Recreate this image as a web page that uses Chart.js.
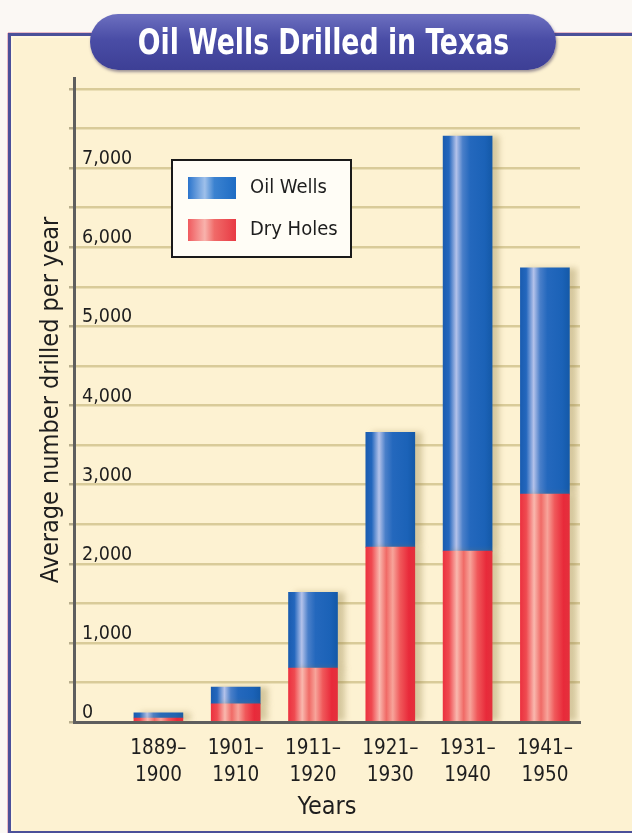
<!DOCTYPE html>
<html>
<head>
<meta charset="utf-8">
<script src="https://cdn.jsdelivr.net/npm/chart.js@4"></script>
<style>
  html, body { margin: 0; padding: 0; background: #fbf8f4; }
  #wrap { position: relative; width: 632px; height: 833px; overflow: hidden; }
  #panel {
    position: absolute; left: 8px; top: 33px; width: 640px; height: 795px;
    background: #fdf2d2;
    border: 3px solid #4b5099;
    box-shadow: 0 -1px 0 #e9b9c8, -1px 0 0 #e9b9c8, inset 2px 2px 0 #fff6e0;
  }
  #title {
    position: absolute; left: 90px; top: 14px; width: 466px; height: 56px;
    border-radius: 28px;
    background: linear-gradient(#6d70c0, #4a4da6 45%, #3d3f95);
    box-shadow: 1px 2px 3px rgba(60, 50, 90, 0.5);
    color: #fff; text-align: center; line-height: 56px;
    font-family: "Liberation Sans Narrow", "DejaVu Sans Condensed", sans-serif;
    font-weight: bold; font-size: 35px;
  }
  #title span { display: inline-block; transform: scaleX(0.85); white-space: nowrap; }
  #chartBox { position: absolute; left: 0; top: 0; width: 632px; height: 833px; }
</style>
</head>
<body>
<div id="wrap">
  <div id="panel"></div>
  <div id="chartBox"><canvas id="chart"></canvas></div>
  <div id="title"><span>Oil Wells Drilled in Texas</span></div>
</div>
<script>
// data
const periods = [["1889–", "1900"], ["1901–", "1910"], ["1911–", "1920"], ["1921–", "1930"], ["1931–", "1940"], ["1941–", "1950"]];
const dryHoles = [50, 230, 680, 2210, 2160, 2880];
const oilWells = [65, 210, 960, 1450, 5245, 2860];
const yTickLabels = [0, 1000, 2000, 3000, 4000, 5000, 6000, 7000];

const FONT = '"Liberation Sans Narrow", "DejaVu Sans Condensed", sans-serif';
const BAR_W = 49;

function barGradient(ctx, kind) {
    const chart = ctx.chart;
    if (!chart.chartArea || !chart.scales.x) return kind === 'oil' ? '#1f63b8' : '#ee3844';
    const xc = chart.scales.x.getPixelForValue(ctx.dataIndex);
    const g = chart.ctx.createLinearGradient(xc - BAR_W / 2, 0, xc + BAR_W / 2, 0);
    if (kind === 'oil') {
        g.addColorStop(0, '#1a5cb0');
        g.addColorStop(0.12, '#2467bd');
        g.addColorStop(0.27, '#b4c2ea');
        g.addColorStop(0.4, '#4a7fc9');
        g.addColorStop(0.55, '#2468bd');
        g.addColorStop(0.85, '#1b62b7');
        g.addColorStop(1, '#1459a8');
    } else {
        g.addColorStop(0, '#ec3240');
        g.addColorStop(0.12, '#ef4a50');
        g.addColorStop(0.28, '#f9b8ae');
        g.addColorStop(0.42, '#f06a66');
        g.addColorStop(0.55, '#f7a49a');
        g.addColorStop(0.7, '#f0585a');
        g.addColorStop(0.88, '#e82a3a');
        g.addColorStop(1, '#e4303c');
    }
    return g;
}

// soft shadow to the right of the bars
const barShadow = {
    id: 'barShadow',
    beforeDatasetsDraw(chart) {
        const c = chart.ctx;
        c.save();
        c.shadowColor = 'rgba(140, 120, 60, 0.35)';
        c.shadowBlur = 6;
        c.shadowOffsetX = 7;
        c.shadowOffsetY = 0;
    },
    afterDatasetsDraw(chart) {
        chart.ctx.restore();
    }
};

// legend box drawn inside the plot
const boxLegend = {
    id: 'boxLegend',
    afterDraw(chart) {
        const c = chart.ctx;
        const items = chart.data.datasets.slice().reverse();
        c.save();
        c.fillStyle = '#fffdf6';
        c.fillRect(172, 160, 179, 97);
        c.strokeStyle = '#1a1a1a';
        c.lineWidth = 2;
        c.strokeRect(172, 160, 179, 97);
        items.forEach((ds, i) => {
            const y = 177 + i * 42;
            const g = c.createLinearGradient(188, 0, 236, 0);
            if (ds.label === 'Oil Wells') {
                g.addColorStop(0, '#2a74cc'); g.addColorStop(0.35, '#9fc0ea');
                g.addColorStop(0.55, '#3b82d0'); g.addColorStop(1, '#1e6cc4');
            } else {
                g.addColorStop(0, '#f05a5e'); g.addColorStop(0.35, '#f8b2ac');
                g.addColorStop(0.55, '#f06a68'); g.addColorStop(1, '#e83a44');
            }
            c.fillStyle = g;
            c.fillRect(188, y, 48, 22);
            c.fillStyle = '#1e1e1e';
            c.font = '20px ' + FONT;
            c.textBaseline = 'middle';
            c.textAlign = 'left';
            c.fillText(ds.label, 250, y + 11);
        });
        c.restore();
    }
};

new Chart(document.getElementById('chart'), {
    type: 'bar',
    data: {
        datasets: [{
            label: 'Dry Holes',
            data: dryHoles.map((v, i) => ({ x: i, y: v })),
            backgroundColor: (ctx) => barGradient(ctx, 'dry'),
            borderWidth: 0,
            barThickness: BAR_W
        }, {
            label: 'Oil Wells',
            data: oilWells.map((v, i) => ({ x: i, y: v })),
            backgroundColor: (ctx) => barGradient(ctx, 'oil'),
            borderWidth: 0,
            barThickness: BAR_W
        }]
    },
    options: {
        responsive: true,
        maintainAspectRatio: false,
        animation: false,
        layout: { padding: { top: 78, right: 52, left: 0, bottom: 0 } },
        plugins: {
            legend: { display: false },
            tooltip: { enabled: false }
        },
        scales: {
            x: {
                type: 'linear',
                stacked: true,
                offset: false,
                min: -1.092,
                max: 5.454,
                afterBuildTicks: (scale) => {
                    scale.ticks = periods.map((p, i) => ({ value: i }));
                },
                afterFit: (scale) => { scale.height = 111; },
                ticks: {
                    autoSkip: false,
                    maxRotation: 0,
                    padding: 13,
                    color: '#1e1e1e',
                    font: { family: FONT, size: 20.5, lineHeight: 1.32 },
                    callback: (v) => periods[v]
                },
                grid: { color: 'transparent', drawTicks: false, offset: false },
                border: { color: '#5e5e5e', width: 3 },
                title: {
                    display: true,
                    text: 'Years',
                    color: '#1e1e1e',
                    font: { family: FONT, size: 25 },
                    padding: { top: 0, bottom: 11 }
                }
            },
            y: {
                stacked: true,
                min: 0,
                max: 8140,
                afterBuildTicks: (scale) => {
                    const t = [];
                    for (let v = 0; v <= 8000; v += 500) t.push({ value: v });
                    scale.ticks = t;
                },
                afterFit: (scale) => { scale.width = 74; },
                ticks: {
                    mirror: true,
                    padding: 8,
                    labelOffset: -9,
                    color: '#1e1e1e',
                    font: { family: FONT, size: 19.5 },
                    callback: (v) => yTickLabels.includes(v) ? v.toLocaleString('en-US') : ''
                },
                grid: {
                    color: (ctx) => ctx.tick && ctx.tick.value === 0 ? 'transparent' : '#d9cb99',
                    lineWidth: 2.5,
                    tickLength: 5,
                    tickColor: '#b8ae8c'
                },
                border: { color: '#5e5e5e', width: 3 },
                title: {
                    display: true,
                    text: 'Average number drilled per year',
                    color: '#1e1e1e',
                    font: { family: FONT, size: 25 },
                    padding: { top: 36, bottom: 0 }
                }
            }
        }
    },
    plugins: [barShadow, boxLegend]
});
</script>
</body>
</html>
